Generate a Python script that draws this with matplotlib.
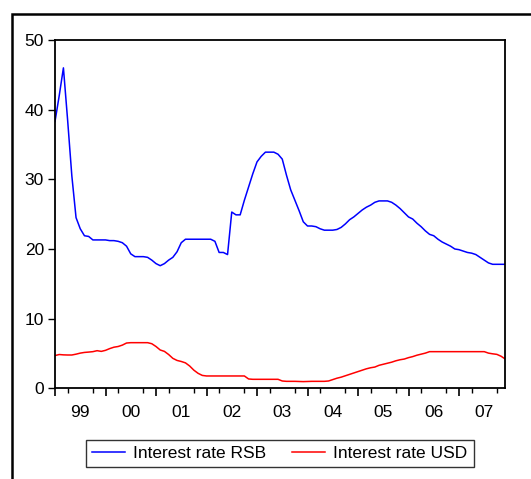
import numpy as np
import matplotlib
matplotlib.use("Agg")
import matplotlib.pyplot as plt
from matplotlib.patches import Rectangle

plt.rcParams['font.family'] = ['Liberation Sans', 'DejaVu Sans']

# Monthly data, Jan 1999 .. Dec 2007
start_year = 1999
n_months = 108
rsb = [38.3, 42.0, 46.0, 38.5, 30.5, 24.5, 22.9, 21.9, 21.8, 21.3, 21.3, 21.3,
       21.3, 21.2, 21.2, 21.1, 20.9, 20.4, 19.3, 18.9, 18.9, 18.9, 18.8, 18.4,
       17.9, 17.6, 17.9, 18.4, 18.8, 19.6, 20.9, 21.4, 21.4, 21.4, 21.4, 21.4,
       21.4, 21.4, 21.1, 19.5, 19.5, 19.2, 25.3, 24.9, 24.9, 27.0, 28.9, 30.8,
       32.5, 33.3, 33.9, 33.9, 33.9, 33.6, 32.9, 30.6, 28.5, 27.0, 25.5, 23.9,
       23.3, 23.3, 23.2, 22.9, 22.7, 22.7, 22.7, 22.8, 23.1, 23.6, 24.2, 24.6,
       25.1, 25.6, 26.0, 26.3, 26.7, 26.9, 26.9, 26.9, 26.7, 26.3, 25.8, 25.2,
       24.6, 24.3, 23.7, 23.2, 22.6, 22.1, 21.9, 21.4, 21.0, 20.7, 20.4, 20.0,
       19.9, 19.7, 19.5, 19.4, 19.2, 18.8, 18.4, 18.0, 17.8, 17.8, 17.8, 17.8]
usd = [4.70, 4.85, 4.80, 4.78, 4.78, 4.90, 5.05, 5.15, 5.20, 5.26, 5.40, 5.30,
       5.45, 5.70, 5.90, 6.00, 6.20, 6.50, 6.55, 6.55, 6.55, 6.55, 6.55, 6.40,
       6.00, 5.50, 5.30, 4.85, 4.30, 4.00, 3.85, 3.65, 3.20, 2.60, 2.15, 1.85,
       1.77, 1.77, 1.77, 1.77, 1.77, 1.77, 1.77, 1.77, 1.77, 1.77, 1.34, 1.29,
       1.29, 1.29, 1.29, 1.29, 1.29, 1.29, 1.05, 1.00, 1.00, 1.00, 0.98, 0.96,
       0.98, 1.00, 1.00, 1.00, 1.00, 1.05, 1.25, 1.45, 1.60, 1.80, 2.00, 2.20,
       2.40, 2.60, 2.80, 2.95, 3.05, 3.30, 3.45, 3.60, 3.75, 3.95, 4.10, 4.20,
       4.40, 4.55, 4.75, 4.90, 5.05, 5.26, 5.26, 5.26, 5.26, 5.26, 5.26, 5.26,
       5.26, 5.26, 5.26, 5.26, 5.26, 5.26, 5.26, 5.05, 4.95, 4.87, 4.60, 4.20]
year_labels = ["99", "00", "01", "02", "03", "04", "05", "06", "07"]
yticks = [0, 10, 20, 30, 40, 50]
series_names = ["Interest rate RSB", "Interest rate USD"]

t = start_year + np.arange(n_months) / 12.0
years = np.arange(start_year, start_year + len(year_labels))

W, H = 531, 479
fig = plt.figure(figsize=(W / 100, H / 100), dpi=100)
ax = fig.add_axes([55 / W, 1 - 388.3 / H, (505.3 - 55) / W, (388.3 - 40) / H])

ax.plot(t, rsb, color='#0000ff', lw=1.1, label=series_names[0])
ax.plot(t, usd, color='#ff0000', lw=1.1, label=series_names[1])

ax.set_xlim(t[0], t[-1])
ax.set_ylim(0, 50)
ax.set_yticks(yticks)
ax.set_yticklabels([str(v) for v in yticks])

# year labels at mid-year, no tick marks
ax.set_xticks(years + 0.5)
ax.set_xticklabels(year_labels)
ax.tick_params(axis='x', which='major', length=0, pad=12, labelsize=12.5)
quarters = [y + q / 4 for y in years for q in (1, 2, 3) if y + q / 4 <= t[-1]]
ax.set_xticks(quarters, minor=True)
ax.tick_params(axis='x', which='minor', length=3.5, width=1, direction='out')
ax.tick_params(axis='y', length=5, width=1, direction='out', pad=3, labelsize=12.5)

sec = ax.secondary_xaxis('bottom')
sec.set_xticks(years)
sec.set_xticklabels([])
sec.tick_params(length=6, width=1.2, direction='out')
sec.spines['bottom'].set_visible(False)

for s in ax.spines.values():
    s.set_linewidth(1.3)
    s.set_color('black')

leg = fig.legend(loc='center', bbox_to_anchor=(280 / W, 1 - 453.5 / H), ncol=2,
                 frameon=True, fancybox=False, fontsize=12.5, handlelength=1.85,
                 handletextpad=0.5, columnspacing=1.5, borderpad=0.35,
                 borderaxespad=0)
leg.get_frame().set_edgecolor('black')
leg.get_frame().set_linewidth(1.0)

# outer frame
fig.patches.append(Rectangle((12 / W, -0.05), 1.1, 1 - 14 / H + 0.05,
                             transform=fig.transFigure, fill=False,
                             edgecolor='black', lw=1.8, clip_on=False))

fig.savefig("out.png", dpi=100)
